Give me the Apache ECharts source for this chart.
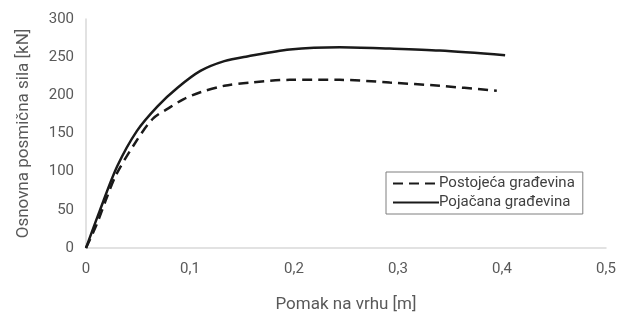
<!DOCTYPE html>
<html>
<head>
<meta charset="utf-8">
<script src="https://cdn.jsdelivr.net/npm/echarts@6/dist/echarts.min.js"></script>
<style>
    html, body { margin: 0; padding: 0; background: #fff; }
    #chart { width: 629px; height: 318px; }
</style>
</head>
<body>
<div id="chart"></div>
<script>
// podaci očitani s dijagrama
var pomakPostojeca = [0, 0.010, 0.020, 0.029, 0.046, 0.064, 0.081, 0.094, 0.110, 0.133, 0.158, 0.196, 0.244, 0.292, 0.340, 0.395];
var silaPostojeca  = [0, 30, 66, 96, 135, 169, 184.5, 195, 204, 212.5, 216.8, 220.3, 220.3, 216.8, 212.5, 206];

var pomakPojacana = [0, 0.013, 0.030, 0.049, 0.069, 0.088, 0.110, 0.133, 0.155, 0.196, 0.244, 0.292, 0.340, 0.403];
var silaPojacana  = [0, 48, 107, 153.5, 186, 210, 232, 244.8, 251, 260, 263, 261.2, 258.6, 252.6];

var xLabels = ['0', '0,1', '0,2', '0,3', '0,4', '0,5'];

function pairs(xs, ys) {
    var out = [];
    for (var i = 0; i < xs.length; i++) out.push([xs[i], ys[i]]);
    return out;
}

var chart = echarts.init(document.getElementById('chart'));
var font = 'Roboto';

chart.setOption({
    animation: false,
    textStyle: { fontFamily: font },
    grid: { left: 86, right: 23, top: 19, bottom: 67 },
    legend: {
        orient: 'vertical',
        left: 386,
        top: 172,
        width: 197,
        padding: [4, 8, 4, 6],
        itemGap: 4,
        itemWidth: 46,
        itemHeight: 14,
        borderColor: '#7f7f7f',
        borderWidth: 1,
        itemStyle: { opacity: 0 },
        textStyle: { fontFamily: font, fontSize: 15, color: '#404040', padding: [0, 0, 0, -5] },
        data: ['Postojeća građevina', 'Pojačana građevina']
    },
    xAxis: {
        type: 'value',
        min: 0,
        max: 0.5,
        interval: 0.1,
        name: 'Pomak na vrhu [m]',
        nameLocation: 'middle',
        nameGap: 48,
        nameTextStyle: { fontSize: 17, color: '#595959' },
        axisLine: { lineStyle: { color: '#d9d9d9', width: 1.5 } },
        axisTick: { show: false },
        splitLine: { show: false },
        axisLabel: {
            fontSize: 15, color: '#595959', margin: 14,
            formatter: function (v) { return xLabels[Math.round(v * 10)]; }
        }
    },
    yAxis: {
        type: 'value',
        min: 0,
        max: 300,
        interval: 50,
        name: 'Osnovna posmična sila [kN]',
        nameLocation: 'middle',
        nameGap: 54,
        nameTextStyle: { fontSize: 17, color: '#595959' },
        axisLine: { show: true, lineStyle: { color: '#d9d9d9', width: 1.5 } },
        axisTick: { show: false },
        splitLine: { show: false },
        axisLabel: { fontSize: 15, color: '#595959', margin: 12 }
    },
    series: [{
        name: 'Postojeća građevina',
        type: 'line',
        smooth: 0.3,
        symbol: 'none',
        lineStyle: { color: '#1a1a1a', width: 2.5, type: [10, 6] },
        itemStyle: { color: '#1a1a1a' },
        data: pairs(pomakPostojeca, silaPostojeca)
    }, {
        name: 'Pojačana građevina',
        type: 'line',
        smooth: 0.3,
        symbol: 'none',
        lineStyle: { color: '#1a1a1a', width: 2.5 },
        itemStyle: { color: '#1a1a1a' },
        data: pairs(pomakPojacana, silaPojacana)
    }]
});
</script>
</body>
</html>
